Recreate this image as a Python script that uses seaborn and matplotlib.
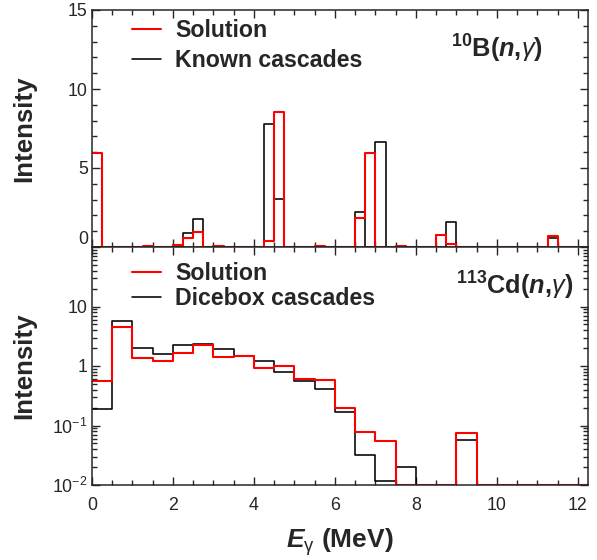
import numpy as np
import pandas as pd
import matplotlib
matplotlib.use("Agg")
import matplotlib.pyplot as plt
from matplotlib.ticker import MultipleLocator, FixedLocator, FixedFormatter, LogLocator, NullFormatter
from matplotlib.transforms import ScaledTranslation
import seaborn as sns

# ---- 10B(n,gamma): 0.25 MeV bins (lower bin edge -> intensity) ----
b_bin_width = 0.25
b_solution_e = [0.0, 1.25, 2.0, 2.25, 2.5, 3.0, 4.25, 4.5, 5.5, 6.5, 6.75, 7.5, 8.5, 8.75, 11.25]
b_solution_i = [5.93, 0.08, 0.10, 0.59, 0.97, 0.05, 0.40, 8.52, 0.08, 1.86, 5.93, 0.08, 0.76, 0.19, 0.70]
b_known_e = [2.25, 2.5, 4.25, 4.5, 6.5, 7.0, 8.75, 11.25]
b_known_i = [0.90, 1.75, 7.78, 3.04, 2.20, 6.63, 1.60, 0.55]

# ---- 113Cd(n,gamma): 0.5 MeV bins starting at 0 ----
cd_bin_width = 0.5
cd_solution = [0.57, 4.6, 1.38, 1.21, 1.63, 2.24, 1.43, 1.48, 0.93, 1.00, 0.61, 0.59,
               0.20, 0.078, 0.054, 0, 0, 0, 0.076, 0, 0, 0, 0, 0, 0]
cd_dicebox = [0.19, 5.7, 2.04, 1.57, 2.24, 2.32, 1.91, 1.47, 1.21, 0.78, 0.57, 0.41,
              0.17, 0.032, 0.0117, 0.020, 0, 0, 0.058, 0, 0, 0, 0, 0, 0]

x_max = 12.25
log_floor = 1e-2

sns.set_style("ticks")
plt.rcParams["font.family"] = ["Liberation Sans", "DejaVu Sans"]
plt.rcParams["mathtext.fontset"] = "custom"
plt.rcParams["mathtext.rm"] = "Liberation Sans"
plt.rcParams["mathtext.it"] = "Liberation Sans:italic"
plt.rcParams["mathtext.bf"] = "Liberation Sans:bold"
plt.rcParams["mathtext.bfit"] = "Liberation Sans:bold:italic"
plt.rcParams["axes.linewidth"] = 1.1

RED = "#ff0000"
BLACK = "#000000"
TICK_FS = 12.8
LEG_FS = 16.7
LAB_FS = 18.6
TAG_FS = 18.3

fig = plt.figure(figsize=(5.97, 5.60), dpi=100)
W, H = 597, 560
ax1 = fig.add_axes([92 / W, 1 - 247 / H, 496 / W, 237 / H])
ax2 = fig.add_axes([92 / W, 1 - 485 / H, 496 / W, 238 / H])

# Top panel: histogram outlines built from weighted bin centres
edges_b = np.arange(0, 12.5 + 1e-9, b_bin_width).tolist()
df_known = pd.DataFrame({"E": np.array(b_known_e) + b_bin_width / 2, "I": b_known_i})
df_sol = pd.DataFrame({"E": np.array(b_solution_e) + b_bin_width / 2, "I": b_solution_i})
sns.histplot(data=df_known, x="E", weights="I", bins=edges_b, element="step", fill=False,
             color=BLACK, linewidth=1.15, ax=ax1, label="Known cascades")
sns.histplot(data=df_sol, x="E", weights="I", bins=edges_b, element="step", fill=False,
             color=RED, linewidth=1.5, ax=ax1, label="Solution")

# Bottom panel: empty bins sit on the lower edge of the log axis
edges_cd = np.arange(0, len(cd_solution) * cd_bin_width + 1e-9, cd_bin_width)
centres_cd = edges_cd[:-1] + cd_bin_width / 2
df_cd = pd.DataFrame({
    "E": centres_cd,
    "dicebox": np.clip(cd_dicebox, log_floor, None),
    "solution": np.clip(cd_solution, log_floor, None),
})
sns.histplot(data=df_cd, x="E", weights="dicebox", bins=edges_cd.tolist(), element="step", fill=False,
             color=BLACK, linewidth=1.15, ax=ax2, label="Dicebox cascades")
sns.histplot(data=df_cd, x="E", weights="solution", bins=edges_cd.tolist(), element="step", fill=False,
             color=RED, linewidth=1.5, ax=ax2, label="Solution")
ax2.set_yscale("log")

# Axes ranges and ticks
for ax in (ax1, ax2):
    ax.set_xlim(0, x_max)
    ax.xaxis.set_major_locator(MultipleLocator(2))
    ax.xaxis.set_minor_locator(MultipleLocator(0.5))
    ax.tick_params(which="both", direction="in", top=True, right=True,
                   labelsize=TICK_FS, width=1.0)
    ax.tick_params(which="major", length=6)
    ax.tick_params(which="minor", length=3.5)
    ax.tick_params(axis="y", pad=3)
    ax.tick_params(axis="x", pad=8.5)
    for s in ax.spines.values():
        s.set_visible(True)
        s.set_linewidth(1.1)

ax1.set_ylim(0, 15)
ax1.set_yticks([0, 5, 10, 15], labels=["0", "5", "10", "15"])
ax1.yaxis.set_minor_locator(MultipleLocator(1))
ax1.tick_params(axis="x", labelbottom=False)

ax2.set_ylim(log_floor, 100)
ax2.yaxis.set_major_locator(FixedLocator([1e-2, 1e-1, 1, 10, 100]))
ax2.yaxis.set_major_formatter(FixedFormatter(
    [r"$\mathregular{10^{-2}}$", r"$\mathregular{10^{-1}}$", "1", "10", ""]))
ax2.yaxis.set_minor_locator(LogLocator(base=10, subs=np.arange(2, 10), numticks=20))
ax2.yaxis.set_minor_formatter(NullFormatter())
ax2.set_xticks(np.arange(0, 13, 2))

# Axis labels
for ax in (ax1, ax2):
    ax.set_ylabel("Intensity", fontsize=LAB_FS, fontweight="bold")
    ax.yaxis.set_label_coords(-0.112, 0.5)
ax1.set_xlabel("")
ax2.set_xlabel(r"$\mathbfit{E}_{\mathrm{\gamma}}$ (MeV)", fontsize=LAB_FS + 0.4, fontweight="bold")
ax2.xaxis.set_label_coords(0.5, -0.172)

# Legends
def add_legend(ax, handles_order, y_anchor, spacing):
    handles, labels = ax.get_legend_handles_labels()
    lookup = dict(zip(labels, handles))
    ax.legend([lookup[k] for k in handles_order], handles_order, loc="upper left",
              bbox_to_anchor=(0.08, y_anchor), frameon=False,
              prop={"weight": "bold", "size": LEG_FS},
              handlelength=1.28, handletextpad=0.6, labelspacing=spacing,
              borderpad=0, borderaxespad=0)

add_legend(ax1, ["Solution", "Known cascades"], 0.96, 0.29)
add_legend(ax2, ["Solution", "Dicebox cascades"], 0.938, 0.1)

# Reaction labels
ax1.text(0.909, 0.80, r"$^{\mathbf{10}}\mathbf{B(}\mathbfit{n}\mathbf{,}\gamma\mathbf{)}$",
         transform=ax1.transAxes, ha="right", va="baseline", fontsize=TAG_FS)
ax2.text(0.97, 0.798, r"$^{\mathbf{113}}\mathbf{Cd(}\mathbfit{n}\mathbf{,}\gamma\mathbf{)}$",
         transform=ax2.transAxes, ha="right", va="baseline", fontsize=TAG_FS)

# Lift the "0" label of the upper panel clear of the shared border
zero_lbl = ax1.get_yticklabels()[0]
zero_lbl.set_transform(zero_lbl.get_transform() + ScaledTranslation(0, 10 / 100, fig.dpi_scale_trans))

fig.savefig("out.png", dpi=100, facecolor="white")
